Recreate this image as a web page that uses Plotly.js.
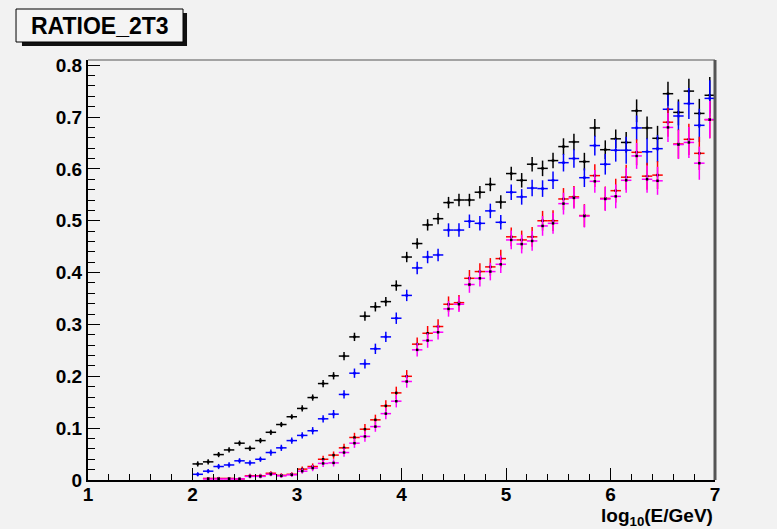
<!DOCTYPE html>
<html>
<head>
<meta charset="utf-8">
<script src="https://cdn.plot.ly/plotly-3.0.1.min.js"></script>
<style>
  html, body { margin: 0; padding: 0; background: #f2f2f2; }
  #chart { width: 777px; height: 529px; }
</style>
</head>
<body>
<div id="chart"></div>
<script>
// Bin centres, log10(E/GeV)
const binCentres = [2.05,2.15,2.25,2.35,2.45,2.55,2.65,2.75,2.85,2.95,
  3.05,3.15,3.25,3.35,3.45,3.55,3.65,3.75,3.85,3.95,
  4.05,4.15,4.25,4.35,4.45,4.55,4.65,4.75,4.85,4.95,
  5.05,5.15,5.25,5.35,5.45,5.55,5.65,5.75,5.85,5.95,
  6.05,6.15,6.25,6.35,6.45,6.55,6.65,6.75,6.85,6.95];
const binHalfWidth = 0.05;

// Tick labels
const xTickVals = [1, 2, 3, 4, 5, 6, 7];
const xTickText = ['1', '2', '3', '4', '5', '6', '7'];
const yTickVals = [0, 0.1, 0.2, 0.3, 0.4, 0.5, 0.6, 0.7, 0.8];
const yTickText = ['0', '0.1', '0.2', '0.3', '0.4', '0.5', '0.6', '0.7', '0.8'];

const ratioBlack = [0.031,0.035,0.049,0.058,0.071,0.061,0.076,0.092,0.107,0.122,
  0.138,0.159,0.186,0.201,0.239,0.276,0.316,0.334,0.344,0.375,
  0.430,0.456,0.492,0.504,0.535,0.540,0.540,0.555,0.570,0.536,
  0.591,0.578,0.609,0.601,0.616,0.643,0.652,0.614,0.679,0.637,
  0.658,0.651,0.712,0.679,0.659,0.745,0.709,0.750,0.707,0.742];
const errBlack = [0.005,0.005,0.005,0.005,0.005,0.005,0.005,0.005,0.005,0.005,
  0.006,0.006,0.007,0.007,0.008,0.008,0.009,0.009,0.009,0.010,
  0.010,0.010,0.011,0.011,0.011,0.012,0.012,0.012,0.013,0.013,
  0.013,0.014,0.014,0.015,0.015,0.016,0.016,0.017,0.017,0.018,
  0.018,0.020,0.022,0.022,0.024,0.023,0.025,0.024,0.028,0.035];

const ratioBlue = [0.011,0.017,0.026,0.029,0.037,0.033,0.040,0.053,0.062,0.076,
  0.086,0.095,0.118,0.127,0.165,0.206,0.224,0.253,0.276,0.312,
  0.356,0.409,0.430,0.434,0.482,0.482,0.499,0.495,0.519,0.497,
  0.555,0.546,0.563,0.562,0.578,0.612,0.620,0.583,0.645,0.609,
  0.636,0.636,0.679,0.633,0.639,0.715,0.702,0.726,0.684,0.736];
const errBlue = [0.004,0.004,0.005,0.005,0.005,0.005,0.005,0.006,0.006,0.006,
  0.006,0.007,0.007,0.008,0.008,0.009,0.009,0.010,0.010,0.011,
  0.011,0.012,0.012,0.012,0.013,0.013,0.013,0.014,0.014,0.014,
  0.015,0.015,0.016,0.016,0.017,0.017,0.018,0.018,0.019,0.020,
  0.022,0.026,0.024,0.026,0.026,0.028,0.028,0.030,0.032,0.035];

const ratioRed = [null,0.003,0.003,0.003,0.002,0.008,0.008,0.013,0.009,0.011,
  0.021,0.026,0.040,0.048,0.062,0.082,0.098,0.116,0.143,0.168,
  0.200,0.262,0.283,0.296,0.339,0.342,0.389,0.402,0.411,0.427,
  0.469,0.463,0.469,0.500,0.500,0.542,0.546,0.510,0.587,0.543,
  0.558,0.584,0.632,0.586,0.588,0.690,0.648,0.657,0.630,0.695];
const errRed = [0.003,0.003,0.003,0.003,0.003,0.004,0.004,0.004,0.004,0.004,
  0.005,0.006,0.007,0.007,0.008,0.009,0.010,0.010,0.011,0.012,
  0.012,0.013,0.014,0.014,0.015,0.015,0.016,0.016,0.017,0.017,
  0.018,0.018,0.019,0.019,0.020,0.021,0.021,0.022,0.022,0.023,
  0.023,0.024,0.025,0.026,0.027,0.028,0.028,0.030,0.032,0.036];

const ratioMagenta = [null,0.002,0.002,0.002,0.002,0.007,0.007,0.011,0.008,0.010,
  0.017,0.023,0.032,0.033,0.053,0.071,0.084,0.103,0.128,0.152,
  0.190,0.251,0.269,0.285,0.330,0.339,0.377,0.389,0.402,0.416,
  0.463,0.455,0.461,0.490,0.495,0.533,0.544,0.509,0.576,0.542,
  0.547,0.578,0.625,0.580,0.577,0.680,0.647,0.651,0.611,0.695];
const errMagenta = [0.003,0.003,0.003,0.003,0.003,0.004,0.004,0.004,0.004,0.004,
  0.005,0.006,0.007,0.007,0.008,0.009,0.010,0.010,0.011,0.012,
  0.012,0.013,0.014,0.014,0.015,0.015,0.016,0.016,0.017,0.017,
  0.018,0.018,0.019,0.019,0.020,0.021,0.021,0.022,0.022,0.023,
  0.023,0.024,0.025,0.026,0.027,0.028,0.028,0.030,0.032,0.036];

const seriesNames = ['black', 'blue', 'red', 'magenta'];
const seriesColors = ['#000000', '#0000ff', '#ff0000', '#ff00ff'];
const centreColors = ['#000000', '#0000ff', '#000000', '#000000'];
const seriesValues = [ratioBlack, ratioBlue, ratioRed, ratioMagenta];
const seriesErrors = [errBlack, errBlue, errRed, errMagenta];

const traces = seriesValues.map((vals, i) => ({
  type: 'scatter',
  mode: 'markers',
  name: seriesNames[i],
  x: binCentres,
  y: vals,
  marker: { size: 2.5, color: centreColors[i], symbol: 'square' },
  error_x: { type: 'constant', value: binHalfWidth, width: 0, thickness: 1.5, color: seriesColors[i] },
  error_y: { type: 'data', array: seriesErrors[i], width: 0, thickness: 1.5, color: seriesColors[i] },
  hoverinfo: 'x+y'
}));

const FONT = 'Liberation Sans, Arial, Helvetica, sans-serif';
const bold = s => '<b>' + s + '</b>';

const layout = {
  width: 777,
  height: 529,
  paper_bgcolor: '#f2f2f2',
  plot_bgcolor: '#f2f2f2',
  showlegend: false,
  margin: { l: 88, r: 62, t: 60, b: 49 },
  font: { family: FONT, color: '#000' },
  xaxis: {
    range: [1, 7],
    tickmode: 'array',
    tickvals: xTickVals,
    ticktext: xTickText.map(bold),
    ticks: 'inside',
    ticklen: 12,
    tickwidth: 1,
    tickcolor: '#000',
    ticklabelstandoff: -4,
    showline: true,
    linecolor: '#000',
    linewidth: 2,
    showgrid: false,
    zeroline: false,
    tickfont: { family: FONT, size: 19, color: '#000' },
    minor: { dtick: 0.2, tick0: 1, ticks: 'inside', ticklen: 6, tickwidth: 1, tickcolor: '#000', showgrid: false }
  },
  yaxis: {
    range: [0, 0.81],
    tickmode: 'array',
    tickvals: yTickVals,
    ticktext: yTickText.map(bold),
    ticks: 'inside',
    ticklen: 12,
    tickwidth: 1,
    tickcolor: '#000',
    showline: true,
    linecolor: '#000',
    linewidth: 2,
    showgrid: false,
    zeroline: false,
    tickfont: { family: FONT, size: 19, color: '#000' },
    minor: { dtick: 0.02, tick0: 0, ticks: 'inside', ticklen: 7, tickwidth: 1, tickcolor: '#000', showgrid: false }
  },
  shapes: [
    // frame top and right edges
    { type: 'line', xref: 'paper', yref: 'paper', x0: 0, x1: 1, y0: 1, y1: 1, line: { color: '#555', width: 1 } },
    { type: 'line', xref: 'paper', yref: 'paper', x0: 1, x1: 1, y0: 0, y1: 1, line: { color: '#555', width: 3 } },
    // title box shadow
    { type: 'rect', xref: 'paper', yref: 'paper', x0: -0.1053, x1: -0.1148 + 171/627, y0: 1.1214 - 33/420 - 4/420, y1: 1.1214 - 4/420, fillcolor: '#111', line: { width: 0 }, layer: 'above' },
    // title box
    { type: 'rect', xref: 'paper', yref: 'paper', x0: -0.1148, x1: -0.1148 + 167/627, y0: 1.1214 - 33/420, y1: 1.1214, fillcolor: '#f4f4f4', line: { color: '#000', width: 1 }, layer: 'above' }
  ],
  annotations: [
    { text: '<b>RATIOE_2T3</b>', xref: 'paper', yref: 'paper', x: -0.1148 + 83.5/627, y: 1.1214 - 16.5/420, xanchor: 'center', yanchor: 'middle', showarrow: false, font: { family: FONT, size: 23, color: '#000' } },
    { text: '<b>log<sub>10</sub>(E/GeV)</b>', xref: 'paper', yref: 'paper', x: 1.0, y: -37/420, xanchor: 'right', yanchor: 'middle', showarrow: false, font: { family: FONT, size: 19, color: '#000' } }
  ]
};

Plotly.newPlot('chart', traces, layout, { staticPlot: true, displayModeBar: false });
</script>
</body>
</html>
